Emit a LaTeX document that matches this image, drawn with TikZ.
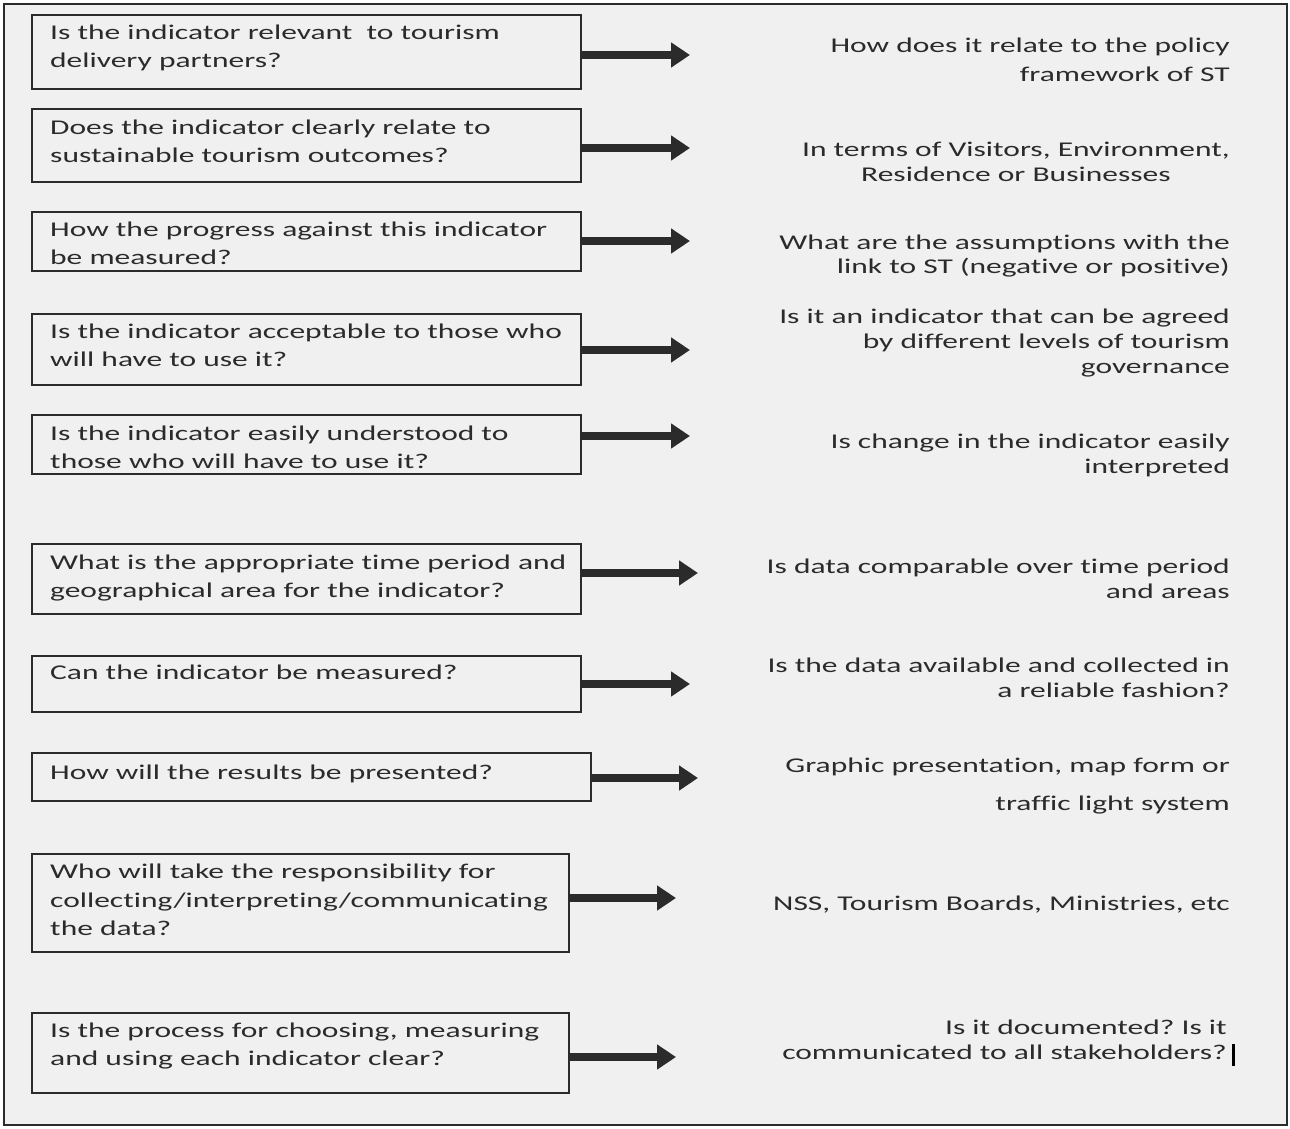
\documentclass[tikz,border=0pt]{standalone}
\usepackage{fontspec}
\setmainfont{Carlito}[FakeStretch=1.5, Ligatures=NoCommon]
\usetikzlibrary{arrows.meta}
\definecolor{bg}{HTML}{F0F0F0}
\definecolor{ink}{HTML}{2B2B2B}
\frenchspacing
\tikzset{
  qbox/.style={draw=ink, line width=1.8pt, fill=none, rectangle, anchor=north west, inner sep=0pt},
  qtext/.style={anchor=north west, align=left, inner sep=0pt, text=ink, font=\fontsize{21}{27.5}\selectfont},
  atext/.style={anchor=north east, align=right, inner sep=0pt, text=ink, font=\fontsize{21}{25}\selectfont},
  arr/.style={draw=ink, line width=8pt, -{Triangle[length=19pt,width=24pt]}},
}
\begin{document}
\begin{tikzpicture}[x=1pt,y=-1pt]
\useasboundingbox (0,0) rectangle (1290,1129);
\fill[white] (0,0) rectangle (1290,1129);
\draw[ink, line width=2pt, fill=bg] (4,4) rectangle (1287,1125);

% question boxes
\node[qbox, minimum width=549pt, minimum height=74pt] (q1) at (31,14) {};
\node[qbox, minimum width=549pt, minimum height=73pt] (q2) at (31,108) {};
\node[qbox, minimum width=549pt, minimum height=59pt] (q3) at (31,211) {};
\node[qbox, minimum width=549pt, minimum height=71pt] (q4) at (31,313) {};
\node[qbox, minimum width=549pt, minimum height=59pt] (q5) at (31,414) {};
\node[qbox, minimum width=549pt, minimum height=70pt] (q6) at (31,543) {};
\node[qbox, minimum width=549pt, minimum height=56pt] (q7) at (31,655) {};
\node[qbox, minimum width=559pt, minimum height=48pt] (q8) at (31,752) {};
\node[qbox, minimum width=537pt, minimum height=98pt] (q9) at (31,853) {};
\node[qbox, minimum width=537pt, minimum height=80pt] (q10) at (31,1012) {};

% question texts
\node[qtext] (t1) at (50,25) {Is the indicator relevant\ \ to tourism\\delivery partners?};
\node[qtext] (t2) at (50,120) {Does the indicator clearly relate to\\sustainable tourism outcomes?};
\node[qtext] (t3) at (50,222) {How the progress against this indicator\\be measured?};
\node[qtext] (t4) at (50,324) {Is the indicator acceptable to those who\\will have to use it?};
\node[qtext] (t5) at (50,426) {Is the indicator easily understood to\\those who will have to use it?};
\node[qtext] (t6) at (50,555) {What is the appropriate time period and\\geographical area for the indicator?};
\node[qtext] (t7) at (50,665) {Can the indicator be measured?};
\node[qtext] (t8) at (50,765) {How will the results be presented?};
\node[qtext, font=\fontsize{21}{28.5}\selectfont] (t9) at (50,864) {Who will take the responsibility for\\collecting/interpreting/communicating\\the data?};
\node[qtext] (t10) at (50,1023) {Is the process for choosing, measuring\\and using each indicator clear?};

% answer texts
\node[atext, font=\fontsize{21}{29}\selectfont] (a1) at (1230,38) {How does it relate to the policy\\framework of ST};
\node[atext, align=center] (a2) at (1230,142) {In terms of Visitors, Environment,\\Residence or Businesses};
\node[atext, font=\fontsize{21}{23.5}\selectfont] (a3) at (1230,235) {What are the assumptions with the\\link to ST (negative or positive)};
\node[atext] (a4) at (1230,309) {Is it an indicator that can be agreed\\by different levels of tourism\\governance};
\node[atext] (a5) at (1230,434) {Is change in the indicator easily\\interpreted};
\node[atext] (a6) at (1230,559) {Is data comparable over time period\\and areas};
\node[atext] (a7) at (1230,658) {Is the data available and collected in\\a reliable fashion?};
\node[atext, font=\fontsize{21}{38}\selectfont] (a8) at (1230,758) {Graphic presentation, map form or\\traffic light system};
\node[atext] (a9) at (1230,896) {NSS, Tourism Boards, Ministries, etc};
\node[atext] (a10) at (1227,1020) {Is it documented? Is it\\communicated to all stakeholders?};
\node[fill=black, inner sep=0pt, minimum width=3pt, minimum height=22pt, anchor=north west] (cur) at (1232,1044) {};

% arrow end points
\coordinate (e1) at (690,55);
\coordinate (e2) at (690,148);
\coordinate (e3) at (690,241);
\coordinate (e4) at (690,350);
\coordinate (e5) at (690,436);
\coordinate (e6) at (698,573);
\coordinate (e7) at (690,684);
\coordinate (e8) at (698,778);
\coordinate (e9) at (676,898);
\coordinate (e10) at (676,1057);
\foreach \i in {1,...,10}{
  \draw[arr] (q\i.east |- e\i) -- (e\i);
}
\end{tikzpicture}
\end{document}
